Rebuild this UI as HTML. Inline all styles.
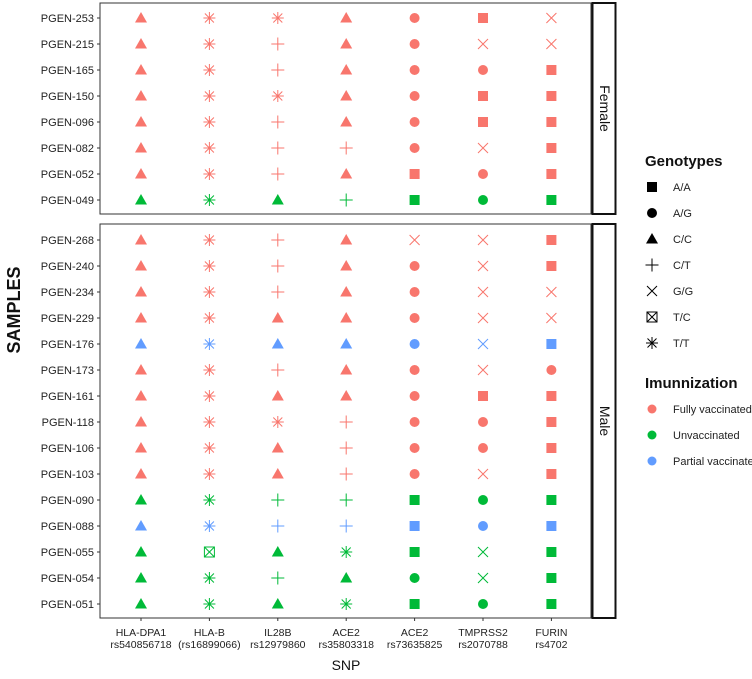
<!DOCTYPE html>
<html><head><meta charset="utf-8"><style>
body{margin:0;background:#fff}
svg{font-family:"Liberation Sans",Arial,sans-serif}
</style></head><body>
<svg id="c" width="752" height="674" xmlns="http://www.w3.org/2000/svg"></svg>
<script>
const snps=[["HLA-DPA1","rs540856718"],["HLA-B","(rs16899066)"],["IL28B","rs12979860"],["ACE2","rs35803318"],["ACE2","rs73635825"],["TMPRSS2","rs2070788"],["FURIN","rs4702"]];
const femaleSamples=["PGEN-253","PGEN-215","PGEN-165","PGEN-150","PGEN-096","PGEN-082","PGEN-052","PGEN-049"];
const femaleVacc=["F","F","F","F","F","F","F","U"];
const femaleGeno=["CSSCGAX","CSTCGXX","CSTCGGA","CSSCGAA","CSTCGAA","CSTTGXA","CSTCAGA","CSCTAGA"];
const maleSamples=["PGEN-268","PGEN-240","PGEN-234","PGEN-229","PGEN-176","PGEN-173","PGEN-161","PGEN-118","PGEN-106","PGEN-103","PGEN-090","PGEN-088","PGEN-055","PGEN-054","PGEN-051"];
const maleVacc=["F","F","F","F","P","F","F","F","F","F","U","P","U","U","U"];
const maleGeno=["CSTCXXA","CSTCGXA","CSTCGXX","CSCCGXX","CSCCGXA","CSTCGXG","CSCCGAA","CSSTGGA","CSCTGGA","CSCTGXA","CSTTAGA","CSTTAGA","CBCSAXA","CSTCGXA","CSCSAGA"];
const genoCodes=["A","G","C","T","X","B","S"];
const genoLabels=["A/A","A/G","C/C","C/T","G/G","T/C","T/T"];
const vaccCodes=["F","U","P"];
const vaccLabels=["Fully vaccinated","Unvaccinated","Partial vaccinated"];
const colors={F:"#F8766D",U:"#00BA38",P:"#619CFF"};

const svg=document.getElementById('c');const NS="http://www.w3.org/2000/svg";
function el(t,a,p){const e=document.createElementNS(NS,t);for(const k in a)e.setAttribute(k,a[k]);(p||svg).appendChild(e);return e;}
function txt(s,a,p){const e=el('text',a,p);e.textContent=s;return e;}
const xL=100,xR=591,colStep=68.4,col0=141;
const xs=i=>col0+i*colStep;
function shape(code,x,y,c,p){
 const g=el('g',{},p);const sw=1;
 if(code==="A")el('rect',{x:x-5,y:y-5,width:10,height:10,fill:c},g);
 else if(code==="G")el('circle',{cx:x,cy:y,r:5,fill:c},g);
 else if(code==="C")el('polygon',{points:`${x},${y-6} ${x+6},${y+4.5} ${x-6},${y+4.5}`,fill:c},g);
 else if(code==="T")el('path',{d:`M${x-6.5},${y}H${x+6.5}M${x},${y-6.5}V${y+6.5}`,stroke:c,'stroke-width':sw,fill:'none'},g);
 else if(code==="X")el('path',{d:`M${x-5},${y-5}L${x+5},${y+5}M${x+5},${y-5}L${x-5},${y+5}`,stroke:c,'stroke-width':sw,fill:'none'},g);
 else if(code==="B"){el('rect',{x:x-5,y:y-5,width:10,height:10,stroke:c,'stroke-width':sw,fill:'none'},g);el('path',{d:`M${x-5},${y-5}L${x+5},${y+5}M${x+5},${y-5}L${x-5},${y+5}`,stroke:c,'stroke-width':sw},g);}
 else if(code==="S")el('path',{d:`M${x-6},${y}H${x+6}M${x},${y-6}V${y+6}M${x-4.5},${y-4.5}L${x+4.5},${y+4.5}M${x+4.5},${y-4.5}L${x-4.5},${y+4.5}`,stroke:c,'stroke-width':sw,fill:'none'},g);
 return g;
}
function panel(name,top,bottom,y0,samples,vacc,geno,strip){
 const pg=el('g',{},svg);
 
 
 el('rect',{x:xL,y:top,width:xR-xL,height:bottom-top,fill:'#fff',stroke:'#333','stroke-width':1},pg);
 samples.forEach((s,r)=>{const y=y0+r*26;
  el('line',{x1:xL-3,x2:xL,y1:y,y2:y,stroke:'#333'},pg);
  const t=txt(s,{x:xL-6,y:y+4,'font-size':11,'text-anchor':'end',fill:'#222'},pg);
  
  
  for(let i=0;i<geno[r].length;i++){const m=shape(geno[r][i],xs(i),y,colors[vacc[r]],pg);
   
   }
 });
 el('rect',{x:592.5,y:top,width:23,height:bottom-top,fill:'#fff',stroke:'#111','stroke-width':2},pg);
 const cy=(top+bottom)/2;
 const st=txt(strip,{x:600,y:cy,'font-size':14,'text-anchor':'middle',transform:`rotate(90 600 ${cy})`,fill:'#111'},pg);
 
 
}
panel('female',3,214,18,femaleSamples,femaleVacc,femaleGeno,'Female');
panel('male',224,618,240,maleSamples,maleVacc,maleGeno,'Male');
snps.forEach((s,i)=>{const x=xs(i);
 el('line',{x1:x,x2:x,y1:618,y2:621,stroke:'#333'});
 const t=txt(s[0],{x:x,y:636,'font-size':10.5,'text-anchor':'middle',fill:'#222'});
 
 
 const t2=txt(s[1],{x:x,y:648,'font-size':10.5,'text-anchor':'middle',fill:'#222'});
 
 
});
const xt=txt('SNP',{x:346,y:670,'font-size':14,'text-anchor':'middle',fill:'#111'});


const yt=txt('SAMPLES',{x:20,y:310,'font-size':18,'font-weight':'bold','text-anchor':'middle',transform:'rotate(-90 20 310)',fill:'#111'});


const lt=txt('Genotypes',{x:645,y:166,'font-size':15,'font-weight':'bold',fill:'#111'});


genoCodes.forEach((c,i)=>{const y=187+i*26;const g=el('g',{});
 
 
 shape(c,652,y,'#000',g);txt(genoLabels[i],{x:673,y:y+4,'font-size':11,fill:'#222'},g);});
const lt2=txt('Imunnization',{x:645,y:388,'font-size':15,'font-weight':'bold',fill:'#111'});


vaccCodes.forEach((c,i)=>{const y=409+i*26;const g=el('g',{});
 
 
 el('circle',{cx:652,cy:y,r:4.5,fill:colors[c]},g);txt(vaccLabels[i],{x:673,y:y+4,'font-size':11,fill:'#222'},g);});
</script>
</body></html>
